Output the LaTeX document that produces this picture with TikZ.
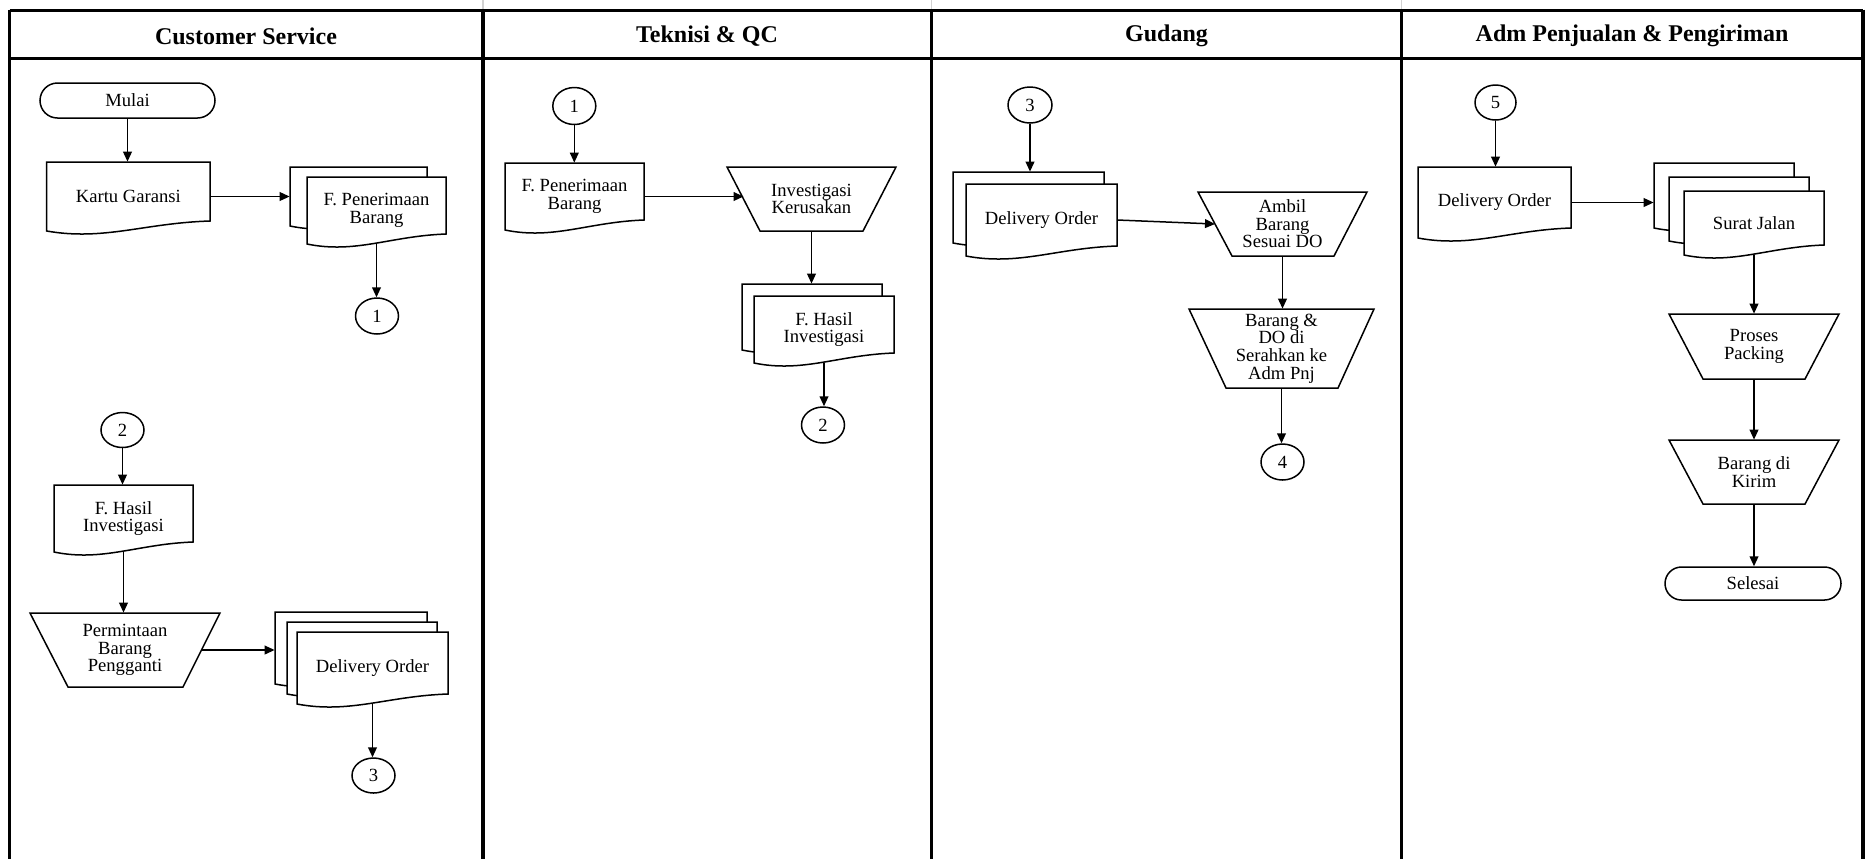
\documentclass[tikz,border=0pt]{standalone}
\usepackage{fontspec}
\setmainfont{Liberation Serif}
\usetikzlibrary{shapes.geometric,shapes.misc,arrows.meta,calc}

\tikzset{
  shp/.style={draw=black, line width=0.75pt, fill=white, line join=miter},
  txt/.style={inner sep=0pt, align=center, font=\fontsize{9.3}{8.8}\selectfont},
  conn/.style={ellipse, draw, line width=0.75pt, fill=white, inner sep=0pt,
    minimum width=21.5pt, minimum height=18pt, font=\fontsize{9.3}{9}\selectfont},
  term/.style={rounded rectangle, draw, line width=0.75pt, fill=white, inner sep=0pt,
    font=\fontsize{9.3}{9}\selectfont},
  flow/.style={line width=0.75pt, -{Triangle[length=5pt,width=4.4pt]}},
  lane/.style={line width=1.8pt},
  head/.style={font=\fontsize{12}{12}\selectfont\bfseries},
}

% document symbol: name, left x, top y, right x, y of right lower corner, text
\newcommand{\fcdoc}[6]{%
  \draw[shp] (#2,#5+10) -- (#2,#3) -- (#4,#3) -- (#4,#5)
    .. controls ({#2+0.6*(#4-#2)},#5+2) and ({#2+0.35*(#4-#2)},#5+20) .. (#2,#5+10) -- cycle;
  \node[txt, minimum width={(#4-#2)*0.5pt}, minimum height={(#5+10-#3)*0.5pt}]
    (#1) at ({(#2+#4)/2},{(#3+#5+10)/2}) {#6};
}

% manual operation: name, top-left x, top-right x, top y, bottom-left x, bottom-right x, bottom y, text
\newcommand{\fctrap}[8]{%
  \draw[shp] (#2,#4) -- (#3,#4) -- (#6,#7) -- (#5,#7) -- cycle;
  \node[txt, minimum width={(#3-#2)*0.5pt}, minimum height={(#7-#4)*0.5pt}]
    (#1) at ({(#2+#3)/2},{(#4+#7)/2}) {#8};
  \coordinate (#1-l) at ({(#2+#5)/2},{(#4+#7)/2});
  \coordinate (#1-r) at ({(#3+#6)/2},{(#4+#7)/2});
}

\begin{document}
\begin{tikzpicture}[x=0.5pt, y=-0.5pt]
\useasboundingbox (0,0) rectangle (1872,859);

% swimlane frame
\foreach \x in {483,931.5,1401.5}
  \draw[gray!35, line width=0.6pt] (\x,0) -- (\x,9.5);
\draw[line width=1.1pt] (9.5,10.5) -- (1863,10.5);
\draw[line width=1.2pt] (9.5,58.5) -- (1863,58.5);
\foreach \x in {9.5,483,931.5,1401.5,1863}
  \draw[lane] (\x,9.6) -- (\x,859);

\node[head] (h1) at (246,36) {Customer Service};
\node[head] (h2) at (707,36) {Teknisi \& QC};
\node[head] (h3) at (1166.5,36) {Gudang};
\node[head] (h4) at (1632,36) {Adm Penjualan \& Pengiriman};

% ---- Customer Service ----
\node[term, minimum width=87.5pt, minimum height=17.5pt] (mulai) at (127.5,100.5) {Mulai};
\fcdoc{kartu}{46.7}{162}{210}{221}{Kartu Garansi}
\fcdoc{fpenB}{290}{167}{427}{216}{}
\fcdoc{fpen}{307}{177}{446}{234}{F. Penerimaan\\Barang}
\node[conn] (c1) at (377,316) {1};

\node[conn, minimum height=17.5pt] (c2) at (122.5,430) {2};
\fcdoc{fhasil}{54}{485}{193}{542}{F. Hasil\\Investigasi}
\fctrap{minta}{30}{220}{613}{68}{183}{687}{Permintaan\\Barang\\Pengganti}
\fcdoc{doB}{275}{612}{427}{674}{}
\fcdoc{doM}{287}{622}{437}{684}{}
\fcdoc{doF}{297}{632}{448}{694}{Delivery Order}
\node[conn, minimum height=17.5pt] (c3) at (373.5,775.5) {3};

\draw[flow] (mulai.south) -- (mulai.south |- kartu.north);
\draw[flow] (kartu.east) -- (kartu.east -| fpenB.west);
\draw[flow] (fpen.south) -- (fpen.south |- c1.north);
\draw[flow] (c2.south) -- (c2.south |- fhasil.north);
\draw[flow] (fhasil.south) -- (fhasil.south |- minta.north);
\draw[flow] (minta-r) -- (minta-r -| doB.west);
\draw[flow] (doF.south) -- (doF.south |- c3.north);

% ---- Teknisi & QC ----
\node[conn, minimum height=18.5pt] (c1b) at (574.3,106) {1};
\fcdoc{fpenT}{505}{163}{644}{220}{F. Penerimaan\\Barang}
\fctrap{invest}{727}{896}{167}{760}{863}{231}{Investigasi\\Kerusakan}
\fcdoc{fhasilB}{742}{284}{882}{340}{}
\fcdoc{fhasilT}{754}{296}{894}{353}{F. Hasil\\Investigasi}
\node[conn] (c2b) at (823,425) {2};

\draw[flow] (c1b.south) -- (c1b.south |- fpenT.north);
\draw[flow] (fpenT.east) -- (fpenT.east -| invest-l);
\draw[flow] (invest.south) -- (invest.south |- fhasilB.north);
\draw[flow] (fhasilT.south) -- (fhasilT.south |- c2b.north);

% ---- Gudang ----
\node[conn, minimum width=22pt] (c3b) at (1030,105) {3};
\fcdoc{dogB}{953}{172}{1104}{233}{}
\fcdoc{dog}{966}{184}{1117}{246}{Delivery Order}
\fctrap{ambil}{1198}{1367}{192}{1232}{1334}{256}{Ambil\\Barang\\Sesuai DO}
\fctrap{serah}{1189}{1374}{309}{1226}{1338}{388}{Barang \&\\DO di\\Serahkan ke\\Adm Pnj}
\node[conn] (c4) at (1282.5,462) {4};

\draw[flow] (c3b.south) -- (c3b.south |- dogB.north);
\draw[flow] (dog.east) -- (ambil-l);
\draw[flow] (ambil.south) -- (ambil.south |- serah.north);
\draw[flow] (serah.south) -- (serah.south |- c4.north);

% ---- Adm Penjualan & Pengiriman ----
\node[conn, minimum width=20.5pt, minimum height=17.5pt] (c5) at (1495.5,102.5) {5};
\fcdoc{doa}{1418}{167}{1571}{228}{Delivery Order}
\fcdoc{sjB}{1654}{163}{1794}{218}{}
\fcdoc{sjM}{1669}{177}{1809}{231}{}
\fcdoc{sj}{1684}{191}{1824}{245}{Surat Jalan}
\fctrap{packing}{1669}{1839}{314}{1703}{1805}{379}{Proses\\Packing}
\fctrap{kirim}{1669}{1839}{440}{1703}{1805}{504}{Barang di\\Kirim}
\node[term, minimum width=88pt, minimum height=16.5pt] (selesai) at (1753,583.5) {Selesai};

\draw[flow] (c5.south) -- (c5.south |- doa.north);
\draw[flow] (doa.east) -- (doa.east -| sjB.west);
\draw[flow] (sj.south) -- (sj.south |- packing.north);
\draw[flow] (packing.south) -- (packing.south |- kirim.north);
\draw[flow] (kirim.south) -- (kirim.south |- selesai.north);
\end{tikzpicture}
\end{document}
